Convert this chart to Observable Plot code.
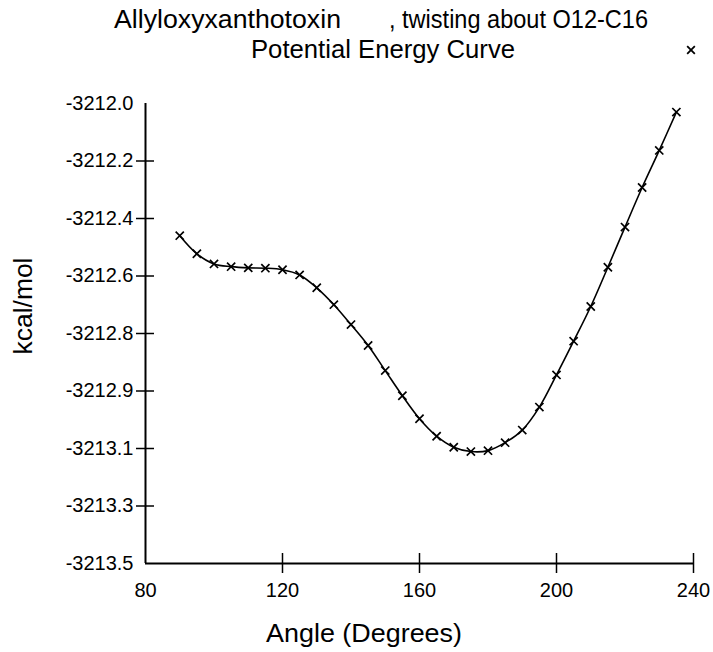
<!DOCTYPE html>
<html>
<head>
<meta charset="utf-8">
<script src="https://cdn.jsdelivr.net/npm/d3@7"></script>
<script src="https://cdn.jsdelivr.net/npm/@observablehq/plot@0.6"></script>
<style>
  body { margin: 0; background: #fff; }
  #chart { width: 713px; height: 652px; }
</style>
</head>
<body>
<div id="chart"></div>
<script>
// ---- data ----
const angles = [90, 95, 100, 105, 110, 115, 120, 125, 130, 135, 140, 145, 150, 155, 160,
                165, 170, 175, 180, 185, 190, 195, 200, 205, 210, 215, 220, 225, 230, 235];
const energies = [-3212.431, -3212.490, -3212.523, -3212.532, -3212.536, -3212.537, -3212.542,
                  -3212.559, -3212.601, -3212.656, -3212.721, -3212.789, -3212.871, -3212.953,
                  -3213.028, -3213.085, -3213.121, -3213.135, -3213.132, -3213.106, -3213.065,
                  -3212.990, -3212.885, -3212.775, -3212.662, -3212.534, -3212.403, -3212.274,
                  -3212.153, -3212.028];
const xDomain = [80, 240];
const yDomain = [-3213.5, -3212.0];
const xTicks = [80, 120, 160, 200, 240];
const xTickLabels = ["80", "120", "160", "200", "240"];
const yTicks = [-3212.0, -3212.1875, -3212.375, -3212.5625, -3212.75, -3212.9375, -3213.125, -3213.3125, -3213.5];
const yTickLabels = ["-3212.0", "-3212.2", "-3212.4", "-3212.6", "-3212.8", "-3212.9", "-3213.1", "-3213.3", "-3213.5"];
const titleA = "Allyloxyxanthotoxin";
const titleB = ", twisting about O12-C16";
const subtitle = "Potential Energy Curve";
const xLabel = "Angle (Degrees)";
const yLabel = "kcal/mol";

const data = angles.map((a, i) => ({angle: a, energy: energies[i]}));
const xLab = new Map(xTicks.map((t, i) => [t, xTickLabels[i]]));
const yLab = new Map(yTicks.map((t, i) => [t, yTickLabels[i]]));
const xCross = xTicks.slice(1);            // tick crosses (the 80 tick sits in the corner)
const yCross = yTicks.slice(1, -1);        // no cross at the axis ends
const font = "'Liberation Sans', Arial, sans-serif";

const chart = Plot.plot({
  width: 713,
  height: 652,
  marginLeft: 145,
  marginRight: 20,
  marginTop: 103,
  marginBottom: 89,
  style: {fontFamily: font, background: "#fff", color: "#000", overflow: "visible"},
  x: {domain: xDomain, axis: null},
  y: {domain: yDomain, axis: null},
  marks: [
    Plot.ruleX([xDomain[0]], {stroke: "#000", strokeWidth: 2}),
    Plot.ruleY([yDomain[0]], {stroke: "#000", strokeWidth: 2}),
    Plot.axisX({ticks: xTicks, tickSize: 0, tickPadding: 19, tickFormat: d => xLab.get(d), fontSize: 20, label: null}),
    Plot.axisX({ticks: xCross, tickSize: 20, dy: -10, fill: "none", strokeWidth: 1.5, label: null}),
    Plot.axisY({ticks: yTicks, tickSize: 0, tickPadding: 12, tickFormat: d => yLab.get(d), fontSize: 20, label: null}),
    Plot.axisY({ticks: yCross, tickSize: 18, dx: 9, fill: "none", strokeWidth: 1.5, label: null}),
    Plot.line(data, {x: "angle", y: "energy", curve: "catmull-rom", stroke: "#000", strokeWidth: 1.6}),
    Plot.dot(data, {x: "angle", y: "energy", symbol: "times", r: 3.8, stroke: "#000", strokeWidth: 1.7})
  ]
});

const svg = d3.select(chart);
const addText = (txt, x, y, size, len, anchor = "start") =>
  svg.append("text")
    .attr("x", x).attr("y", y)
    .attr("font-family", font).attr("font-size", size)
    .attr("fill", "#000").attr("text-anchor", anchor)
    .attr("textLength", len).attr("lengthAdjust", "spacingAndGlyphs")
    .text(txt);

addText(titleA, 114, 28, 26, 227);
addText(titleB, 389, 28, 26, 259);
addText(subtitle, 251, 58, 26, 264);
addText(xLabel, 266, 642, 26, 196);
svg.append("text")
  .attr("transform", "translate(32,306) rotate(-90)")
  .attr("font-family", font).attr("font-size", 26)
  .attr("fill", "#000").attr("text-anchor", "middle")
  .attr("textLength", 97).attr("lengthAdjust", "spacingAndGlyphs")
  .text(yLabel);
// legend symbol (top right)
svg.append("path")
  .attr("transform", "translate(691,50)")
  .attr("d", d3.symbol(d3.symbolTimes, 40)())
  .attr("fill", "none").attr("stroke", "#000").attr("stroke-width", 1.8);

document.getElementById("chart").appendChild(chart);
</script>
</body>
</html>
